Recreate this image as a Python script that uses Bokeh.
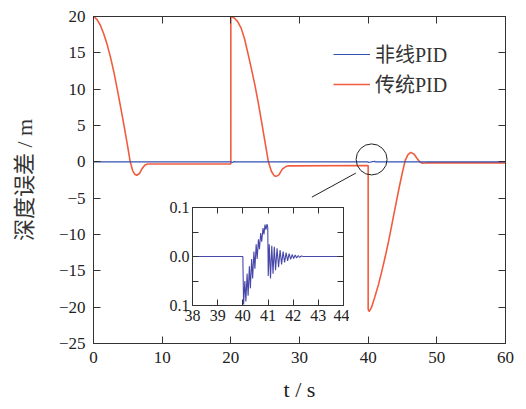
from bokeh.plotting import figure
from bokeh.models import LinearAxis, FixedTicker, Legend, LegendItem, Range1d, CustomLabelingPolicy
from bokeh.embed import file_html
from bokeh.resources import INLINE

# ---------------- data ----------------
# traditional PID (传统PID)
red_t = [0, 0.5, 1, 1.5, 2, 2.5, 3, 3.5, 4, 4.5, 5, 5.35, 5.7, 6.0, 6.3, 6.7, 7.1, 7.5, 7.9, 20,
         20, 20.5, 21, 21.5, 22, 22.5, 23, 23.5, 24, 24.5, 25, 25.47, 25.9, 26.3, 26.6, 27, 27.5, 28, 28.5, 40,
         40, 40.15, 40.5, 41, 41.5, 42, 42.5, 43, 43.5, 44, 44.5, 45, 45.4, 45.8, 46.2, 46.7, 47.1, 47.5, 47.9, 48.4, 60]
red_v = [20, 19.6, 18.8, 17.6, 16.1, 14.3, 12.2, 9.8, 7.3, 4.7, 2.0, 0, -1.2, -1.7, -1.85, -1.6, -0.9, -0.45, -0.3, -0.3,
         20, 19.8, 19.3, 18.4, 16.9, 14.9, 12.8, 10.6, 8.1, 5.4, 2.6, 0, -1.3, -1.9, -2.0, -1.8, -1.0, -0.65, -0.55, -0.5,
         -20.3, -20.6, -20.0, -18.5, -16.9, -15.0, -13.0, -10.8, -8.4, -6.0, -3.6, -1.4, 0.2, 1.0, 1.3, 1.05, 0.5, 0.0, -0.2, -0.15, -0.15]

# nonlinear PID (非线PID)
blue_t = [0, 20, 20.2, 20.5, 20.8, 38, 40.0, 40.03, 40.08, 40.12, 40.17, 40.21, 40.26, 40.3, 40.35, 40.39, 40.44,
          40.48, 40.53, 40.57, 40.62, 40.66, 40.71, 40.75, 40.8, 40.84, 40.88, 40.92, 40.96, 40.99, 41.01,
          41.05, 41.1, 41.15, 41.2, 41.25, 41.3, 41.36, 41.42, 41.48, 41.54, 41.6, 41.66, 41.72, 41.78,
          41.84, 41.9, 41.96, 42.02, 42.08, 42.14, 42.2, 42.26, 42.32, 42.4, 44, 60]
blue_v = [0, 0, -0.08, 0.03, 0, 0, 0, -0.098, -0.05, -0.092, -0.035, -0.08, -0.02, -0.065, -0.005, -0.045, 0.01,
          -0.025, 0.025, -0.005, 0.035, 0.015, 0.048, 0.03, 0.058, 0.045, 0.065, 0.055, 0.066, 0.06, -0.04,
          0.025, -0.045, 0.022, -0.035, 0.02, -0.028, 0.017, -0.022, 0.013, -0.016, 0.01, -0.012, 0.008, -0.009,
          0.006, -0.006, 0.004, -0.004, 0.003, -0.003, 0.002, -0.002, 0.001, 0, 0, 0]

legend_labels = ["非线PID", "传统PID"]

x_ticks = [0, 10, 20, 30, 40, 50, 60]
y_ticks = [-25, -20, -15, -10, -5, 0, 5, 10, 15, 20]
y_tick_labels = ["\u221225", "\u221220", "\u221215", "\u221210", "\u22125", "0", "5", "10", "15", "20"]

inset_x_ticks = [38, 39, 40, 41, 42, 43, 44]
inset_y_ticks = [-0.1, -0.05, 0.0, 0.05, 0.1]
inset_y_tick_labels = ["0.1", "", "0.0", "", "0.1"]

# callout (circle + leader line) in main data coordinates
callout_center = (40.5, 0.33)
leader_x = [31.8, 38.2]
leader_y = [-4.86, -1.55]

# ---------------- style ----------------
RED = "#f25c3e"
BLUE = "#3550b4"
INSET_BLUE = "#4848aa"
AX = "#333333"
SERIF = "Liberation Serif, Noto Serif, DejaVu Serif, Times New Roman, Noto Sans"
MIX = "Liberation Serif, Noto Serif, DejaVu Serif, Noto Sans CJK SC"

NO_LABELS = CustomLabelingPolicy(code="const ids = [...indices]; for (const i of ids) indices.unset(i); return indices")

p = figure(frame_width=412, frame_height=327, x_range=Range1d(0, 60), y_range=Range1d(-25, 20),
           output_backend="svg", toolbar_location=None,
           min_border_left=93, min_border_right=12, min_border_top=16, min_border_bottom=50)
p.background_fill_color = None
p.border_fill_color = "white"
p.outline_line_color = AX
p.outline_line_width = 1
p.grid.visible = False

r_red = p.line(red_t, red_v, line_color=RED, line_width=1.6)
r_blue = p.line(blue_t, blue_v, line_color=BLUE, line_width=1.1)

p.scatter([callout_center[0]], [callout_center[1]], marker="circle", size=31,
          fill_color=None, line_color="#222222", line_width=1)
p.line(leader_x, leader_y, line_color="#222222", line_width=1)

def style_axis(ax, ticks, size="17px", tick_in=7):
    ax.ticker = FixedTicker(ticks=ticks)
    ax.major_tick_in = tick_in
    ax.major_tick_out = 0
    ax.minor_tick_in = 0
    ax.minor_tick_out = 0
    ax.axis_line_color = AX
    ax.major_tick_line_color = AX
    ax.major_label_text_font = SERIF
    ax.major_label_text_font_size = size
    ax.major_label_text_color = "#222222"

def ticks_only(ax):
    ax.major_label_policy = NO_LABELS
    ax.major_label_text_font_size = "1px"
    ax.major_label_standoff = 0

xa = p.xaxis[0]
style_axis(xa, x_ticks)
xa.major_label_standoff = 8
xa.axis_label = "t / s"
xa.axis_label_text_font = SERIF
xa.axis_label_text_font_style = "normal"
xa.axis_label_text_font_size = "22px"
xa.axis_label_text_color = "#222222"
xa.axis_label_standoff = 11

ya = p.yaxis[0]
style_axis(ya, y_ticks)
ya.major_label_overrides = {t: l for t, l in zip(y_ticks, y_tick_labels)}
ya.major_label_standoff = 8
ya.axis_label = "深度误差 / m"
ya.axis_label_text_font = MIX
ya.axis_label_text_font_style = "normal"
ya.axis_label_text_font_size = "22px"
ya.axis_label_text_color = "#333333"
ya.axis_label_standoff = 19

top = LinearAxis()
style_axis(top, x_ticks)
ticks_only(top)
p.add_layout(top, "above")
right = LinearAxis()
style_axis(right, y_ticks)
ticks_only(right)
p.add_layout(right, "right")

legend = Legend(items=[LegendItem(label=legend_labels[0], renderers=[r_blue]),
                       LegendItem(label=legend_labels[1], renderers=[r_red])],
                location=(240, 245), orientation="vertical")
legend.border_line_color = None
legend.background_fill_alpha = 0
legend.padding = 0
legend.margin = 0
legend.spacing = 1
legend.glyph_width = 37
legend.glyph_height = 22
legend.label_height = 22
legend.label_standoff = 5
legend.label_text_font = MIX
legend.label_text_font_size = "20px"
legend.label_text_color = "#333333"
p.add_layout(legend)

# ---------------- inset ----------------
ins = figure(frame_width=151, frame_height=98, x_range=Range1d(38, 44), y_range=Range1d(-0.1, 0.1),
             output_backend="svg", toolbar_location=None,
             min_border_left=40, min_border_right=6, min_border_top=14, min_border_bottom=30)
ins.background_fill_color = None
ins.border_fill_color = None
ins.outline_line_color = AX
ins.grid.visible = False
ins.line(blue_t, blue_v, line_color=INSET_BLUE, line_width=1.1)

ix = ins.xaxis[0]
style_axis(ix, inset_x_ticks, "16px", 6)
ix.major_label_standoff = 4
iy = ins.yaxis[0]
style_axis(iy, inset_y_ticks, "16px", 6)
iy.major_label_standoff = 3
iy.major_label_overrides = {t: l for t, l in zip(inset_y_ticks, inset_y_tick_labels)}
itop = LinearAxis()
style_axis(itop, inset_x_ticks, "16px", 6)
ticks_only(itop)
ins.add_layout(itop, "above")
iright = LinearAxis()
style_axis(iright, inset_y_ticks, "16px", 6)
ticks_only(iright)
ins.add_layout(iright, "right")

ins.styles = {"position": "absolute", "left": "152px", "top": "193px"}

open("out.html", "w").write(file_html([p, ins], INLINE))
